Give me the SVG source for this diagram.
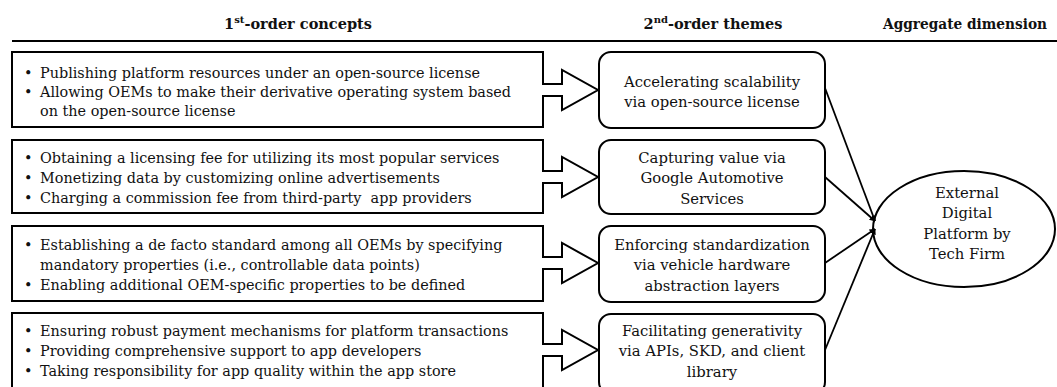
<svg xmlns="http://www.w3.org/2000/svg" width="1057" height="387" viewBox="0 0 1057 387">
  <style>
    .hdr { font-family: "DejaVu Serif", "Liberation Serif", serif; font-size: 14.5px; font-weight: bold; fill: #111; }
    .txt { font-family: "DejaVu Serif", "Liberation Serif", serif; font-size: 14.8px; fill: #111; }
    .item { font-size: 14.4px; }
    .ctr { text-anchor: middle; }
    .outline { fill: #fff; stroke: #000; stroke-width: 2; stroke-linejoin: miter; }
    .theme { fill: #fff; stroke: #000; stroke-width: 2; }
    .link { stroke: #000; stroke-width: 1.8; fill: none; marker-end: url(#tip); }
  </style>
  <defs>
    <marker id="tip" viewBox="0 0 10 10" refX="9" refY="5" markerWidth="6" markerHeight="6" markerUnits="userSpaceOnUse" orient="auto">
      <path d="M0,0 L10,5 L0,10 Z" fill="#000"/>
    </marker>
  </defs>
  <rect width="1057" height="387" fill="#fff"/>

  <!-- column headings -->
  <g id="headings">
    <text class="hdr ctr" x="298" y="29">1<tspan font-size="10" dy="-6">st</tspan><tspan dy="6">-order concepts</tspan></text>
    <text class="hdr ctr" x="713" y="29">2<tspan font-size="10" dy="-6">nd</tspan><tspan dy="6">-order themes</tspan></text>
    <text class="hdr ctr" x="965" y="29" textLength="164" lengthAdjust="spacingAndGlyphs">Aggregate dimension</text>
    <line x1="12" y1="41" x2="1057" y2="41" stroke="#000" stroke-width="2"/>
  </g>

  <!-- first-order concept boxes with block arrows -->
  <g id="concepts-1">
    <path class="outline" d="M12,52 H543 V84 H562 V70 L598,90 L562,110 V96 H543 V127 H12 Z"/>
    <text class="txt item" x="24" y="78">•</text><text class="txt item" x="40" y="78">Publishing platform resources under an open-source license</text>
    <text class="txt item" x="24" y="97">•</text><text class="txt item" x="40" y="97">Allowing OEMs to make their derivative operating system based</text>
    <text class="txt item" x="40" y="116">on the open-source license</text>
  </g>
  <g id="concepts-2">
    <path class="outline" d="M12,140 H543 V171 H562 V157 L598,177 L562,197 V183 H543 V213 H12 Z"/>
    <text class="txt item" x="24" y="163">•</text><text class="txt item" x="40" y="163">Obtaining a licensing fee for utilizing its most popular services</text>
    <text class="txt item" x="24" y="183">•</text><text class="txt item" x="40" y="183">Monetizing data by customizing online advertisements</text>
    <text class="txt item" x="24" y="203">•</text><text class="txt item" x="40" y="203" xml:space="preserve">Charging a commission fee from third-party  app providers</text>
  </g>
  <g id="concepts-3">
    <path class="outline" d="M12,226 H543 V257 H562 V243 L598,263 L562,283 V269 H543 V301 H12 Z"/>
    <text class="txt item" x="24" y="250">•</text><text class="txt item" x="40" y="250">Establishing a de facto standard among all OEMs by specifying</text>
    <text class="txt item" x="40" y="270">mandatory properties (i.e., controllable data points)</text>
    <text class="txt item" x="24" y="290">•</text><text class="txt item" x="40" y="290">Enabling additional OEM-specific properties to be defined</text>
  </g>
  <g id="concepts-4">
    <path class="outline" d="M12,313 H543 V344 H562 V330 L598,350 L562,370 V356 H543 V392 H12 Z"/>
    <text class="txt item" x="24" y="336">•</text><text class="txt item" x="40" y="336">Ensuring robust payment mechanisms for platform transactions</text>
    <text class="txt item" x="24" y="356">•</text><text class="txt item" x="40" y="356">Providing comprehensive support to app developers</text>
    <text class="txt item" x="24" y="376">•</text><text class="txt item" x="40" y="376">Taking responsibility for app quality within the app store</text>
  </g>

  <!-- second-order themes -->
  <g id="theme-1">
    <rect class="theme" x="599" y="52" width="226" height="76" rx="12"/>
    <text class="txt ctr" x="712" y="87">Accelerating scalability</text>
    <text class="txt ctr" x="712" y="107">via open-source license</text>
  </g>
  <g id="theme-2">
    <rect class="theme" x="599" y="140" width="226" height="74" rx="12"/>
    <text class="txt ctr" x="712" y="163">Capturing value via</text>
    <text class="txt ctr" x="712" y="183">Google Automotive</text>
    <text class="txt ctr" x="712" y="204">Services</text>
  </g>
  <g id="theme-3">
    <rect class="theme" x="599" y="226" width="226" height="76" rx="12"/>
    <text class="txt ctr" x="712" y="250">Enforcing standardization</text>
    <text class="txt ctr" x="712" y="270">via vehicle hardware</text>
    <text class="txt ctr" x="712" y="291">abstraction layers</text>
  </g>
  <g id="theme-4">
    <rect class="theme" x="599" y="314" width="226" height="80" rx="12"/>
    <text class="txt ctr" x="712" y="336">Facilitating generativity</text>
    <text class="txt ctr" x="712" y="356">via APIs, SKD, and client</text>
    <text class="txt ctr" x="712" y="377">library</text>
  </g>

  <!-- aggregate dimension -->
  <g id="aggregate">
    <ellipse cx="964" cy="229" rx="91" ry="58" fill="#fff" stroke="#000" stroke-width="2"/>
    <text class="txt ctr" x="967" y="198">External</text>
    <text class="txt ctr" x="967" y="218">Digital</text>
    <text class="txt ctr" x="967" y="239">Platform by</text>
    <text class="txt ctr" x="967" y="259">Tech Firm</text>
  </g>

  <!-- theme-to-dimension connectors -->
  <g id="connectors">
    <line class="link" x1="825" y1="88" x2="875" y2="221"/>
    <line class="link" x1="825" y1="177" x2="875" y2="221"/>
    <line class="link" x1="825" y1="263" x2="875" y2="229"/>
    <line class="link" x1="825" y1="350" x2="875" y2="229"/>
  </g>
</svg>
